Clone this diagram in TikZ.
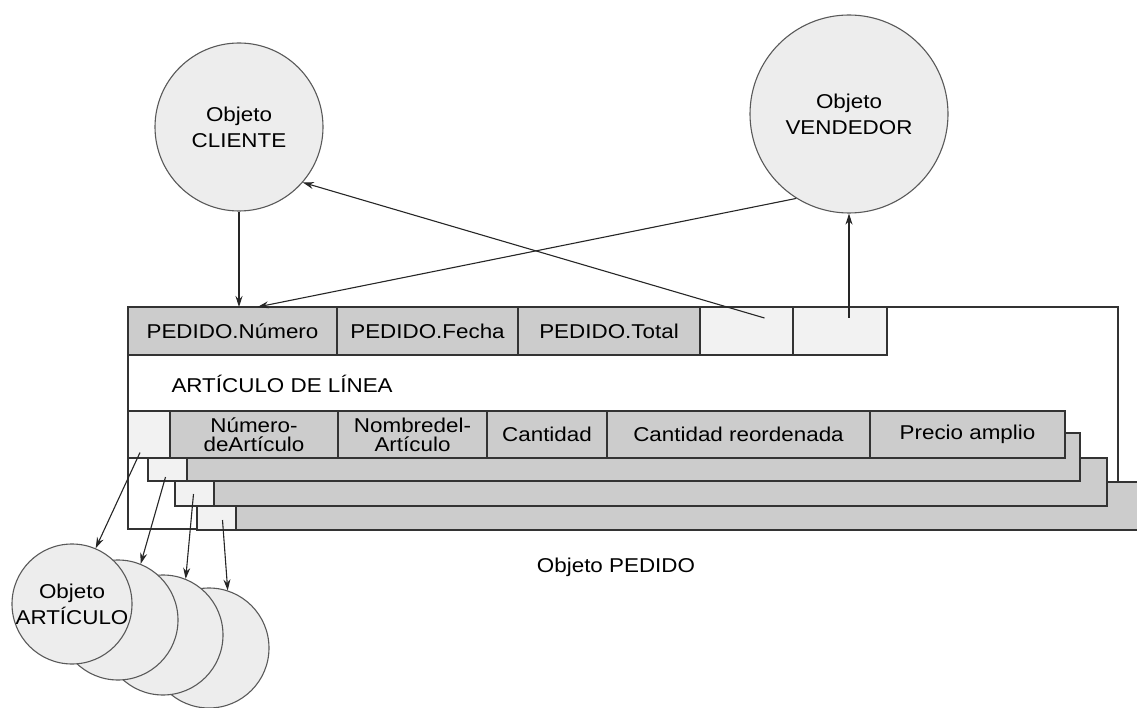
\documentclass[tikz,border=0pt]{standalone}
\usepackage{fontspec}
\setmainfont{Liberation Sans}[FakeStretch=1.12]
\usetikzlibrary{arrows.meta,positioning}

\begin{document}
\begin{tikzpicture}[x=1pt,y=-1pt,
 cell/.style={draw=black!80,fill=black!20,line width=1.3pt,minimum height=48pt,
 inner sep=0pt,outer sep=0pt,align=center,font=\fontsize{20}{19}\selectfont,text=black},
 blank/.style={cell,fill=black!5},
 layer/.style={draw=black!80,fill=black!20,line width=1.3pt},
 obj/.style={circle,draw=black!65,fill=black!7,line width=1.1pt,inner sep=0pt,
 align=center,font=\fontsize{20}{26}\selectfont,text=black},
 lbl/.style={font=\fontsize{20}{24}\selectfont,text=black},
 arr/.style={-{Stealth[length=11pt,width=7pt]},line width=1.1pt,black!85}]
\useasboundingbox (0,0) rectangle (1137,708);
\clip (0,0) rectangle (1137,708);
% Objeto PEDIDO
\draw[black!80,line width=1.3pt,fill=white] (128,307) rectangle (1118,529);
\node[blank,minimum width=209pt,fill=black!20,anchor=north west] (num) at (128,307) {PEDIDO.Número};
\node[cell,minimum width=181pt,right=0pt of num] (fecha) {PEDIDO.Fecha};
\node[cell,minimum width=182pt,right=0pt of fecha] (total) {PEDIDO.Total};
\node[blank,minimum width=93pt,right=0pt of total] (e1) {};
\node[blank,minimum width=94pt,right=0pt of e1] (e2) {};
\node[lbl,anchor=base west] (linea) at (168,392) {ARTÍCULO DE LÍNEA};
% stacked line items
\foreach \i/\x/\y/\w in {4/197/482/960,3/175/458/932,2/148/433/932} {
 \draw[layer] (\x,\y) rectangle ++(\w,48);
 \node[blank,minimum width=39pt,anchor=north west] (l\i) at (\x,\y) {};
}
\node[blank,minimum width=42pt,minimum height=47pt,anchor=north west] (a0) at (128,411) {};
\node[cell,minimum width=168pt,minimum height=47pt,right=0pt of a0] (anum) {Número-\\deArtículo};
\node[cell,minimum width=149pt,minimum height=47pt,right=0pt of anum] (anom) {Nombredel-\\Artículo};
\node[cell,minimum width=120pt,minimum height=47pt,right=0pt of anom] (cant) {Cantidad};
\node[cell,minimum width=263pt,minimum height=47pt,right=0pt of cant] (reord) {Cantidad reordenada};
\node[cell,minimum width=195pt,minimum height=47pt,right=0pt of reord] (precio) {Precio amplio};
\node[lbl] (pedido) at (616,567) {Objeto PEDIDO};
% objects
\node[obj,minimum size=168pt] (cli) at (239,127) {Objeto\\CLIENTE};
\node[obj,minimum size=198pt] (vend) at (849,114) {Objeto\\VENDEDOR};
\foreach \i/\x/\y in {4/209/648,3/163/635,2/118/620}
 \node[obj,minimum size=120pt] (art\i) at (\x,\y) {};
\node[obj,minimum size=120pt] (art1) at (72,604) {Objeto\\ARTÍCULO};
% connectors
\path (vend.south |- e2.north) ++(0,11) coordinate (vtail);
\draw[arr] (cli.south) -- (cli.south |- num.north);
\draw[arr] (vend.238) -- ([xshift=25pt]num.north);
\draw[arr] ([xshift=18pt,yshift=13pt]e1.center) -- (cli.-41);
\draw[arr] (vtail) -- (vend.south);
\draw[arr] ([xshift=-9pt,yshift=-18pt]a0.center) -- (art1.67);
\draw[arr] ([xshift=-2pt,yshift=-20pt]l2.center) -- (art2.68);
\draw[arr] ([xshift=-1pt,yshift=-12pt]l3.center) -- (art3.68);
\draw[arr] ([xshift=6pt,yshift=-14pt]l4.center) -- (art4.72);
\end{tikzpicture}
\end{document}
